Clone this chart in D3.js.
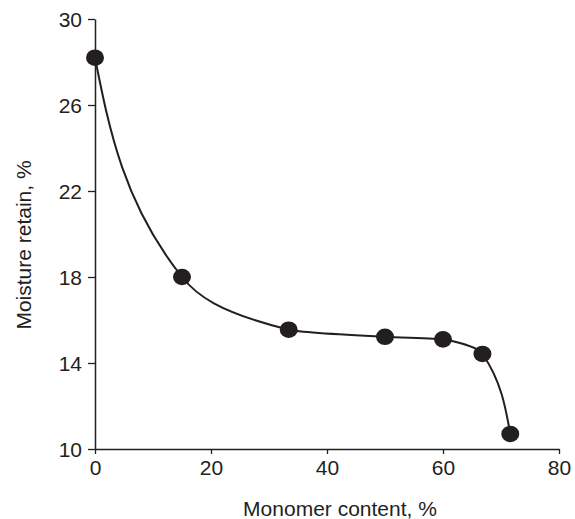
<!DOCTYPE html>
<html>
<head>
<meta charset="utf-8">
<script src="https://cdn.jsdelivr.net/npm/d3@7"></script>
<style>
  html, body { margin: 0; padding: 0; background: #fff; }
  svg text { font-family: "Liberation Sans", Arial, sans-serif; fill: #231f20; }
</style>
</head>
<body>
<svg id="chart" width="575" height="519"></svg>
<script>
// data
const monomer = [0, 15, 33.4, 50, 60, 66.8, 71.6]
const moisture = [28.2, 18.0, 15.55, 15.22, 15.1, 14.42, 10.7]
const xTicks = [0, 20, 40, 60, 80]
const yTicks = [10, 14, 18, 22, 26, 30]

const ink = '#231f20'
const svg = d3.select('#chart')

const x = d3.scaleLinear().domain([0, 80]).range([95, 559])
const y = d3.scaleLinear().domain([10, 30]).range([449, 19])

const points = monomer.map((m, i) => ({ x: m, y: moisture[i] }))

// axes
const xAxis = svg.append('g')
  .attr('transform', 'translate(0,' + y(10) + ')')
  .call(d3.axisBottom(x).tickValues(xTicks).tickSize(5).tickSizeOuter(0).tickPadding(6))
const yAxis = svg.append('g')
  .attr('transform', 'translate(' + x(0) + ',0)')
  .call(d3.axisLeft(y).tickValues(yTicks).tickSize(7).tickSizeOuter(0).tickPadding(6))

for (const g of [xAxis, yAxis]) {
  g.select('.domain').attr('stroke', ink).attr('stroke-width', 1.5)
  g.selectAll('.tick line').attr('stroke', ink).attr('stroke-width', 1.3)
  g.selectAll('.tick text')
    .attr('font-size', 21)
    .attr('fill', ink)
    .style('font-family', '"Liberation Sans", Arial, sans-serif')
}
yAxis.selectAll('.tick text').attr('dy', '0.36em')

// curve: moisture falls steadily, so interpolate monotone along y
const line = d3.line()
  .x(d => x(d.x))
  .y(d => y(d.y))
  .curve(d3.curveMonotoneY)

svg.append('path')
  .datum(points)
  .attr('d', line)
  .attr('fill', 'none')
  .attr('stroke', ink)
  .attr('stroke-width', 2)

// markers
svg.selectAll('ellipse.pt')
  .data(points)
  .enter().append('ellipse')
  .attr('class', 'pt')
  .attr('cx', d => x(d.x))
  .attr('cy', d => y(d.y))
  .attr('rx', 9)
  .attr('ry', 8.3)
  .attr('fill', ink)

// axis titles
svg.append('text')
  .attr('x', 340)
  .attr('y', 516)
  .attr('text-anchor', 'middle')
  .attr('font-size', 21)
  .text('Monomer content, %')

svg.append('text')
  .attr('transform', 'translate(31,245) rotate(-90)')
  .attr('text-anchor', 'middle')
  .attr('font-size', 21)
  .text('Moisture retain, %')
</script>
</body>
</html>
